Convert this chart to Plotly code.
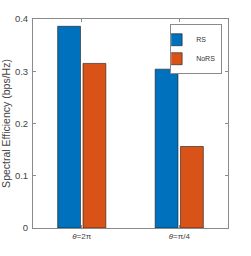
import plotly.graph_objects as go

categories = ["<i>θ</i>=2π", "<i>θ</i>=π/4"]
positions = [1, 2]
rs_values = [0.386, 0.304]
nors_values = [0.315, 0.156]
y_ticks = [0, 0.1, 0.2, 0.3, 0.4]
y_tick_labels = ["0", "0.1", "0.2", "0.3", "0.4"]

fig = go.Figure()
fig.add_trace(go.Bar(x=positions, y=rs_values, name="RS",
                     marker=dict(color="#0072BD", line=dict(color="#1a1a1a", width=0.6))))
fig.add_trace(go.Bar(x=positions, y=nors_values, name="NoRS",
                     marker=dict(color="#D95319", line=dict(color="#1a1a1a", width=0.6))))

axis_common = dict(showline=True, linecolor="#8a8a8a", linewidth=1, mirror="ticks",
                   ticks="inside", ticklen=3, tickcolor="#8a8a8a", showgrid=False,
                   zeroline=False, automargin=False)

fig.update_layout(
    width=251, height=256,
    margin=dict(l=33, r=23, t=19, b=28),
    plot_bgcolor="white", paper_bgcolor="white",
    barmode="group", bargap=0.48, bargroupgap=0.1,
    font=dict(family="Liberation Sans", color="#444"),
    xaxis=dict(range=[0.5, 2.5], tickvals=positions, ticktext=categories,
               tickfont=dict(family="Liberation Sans", size=8, color="#444"), **axis_common),
    yaxis=dict(range=[0, 0.4], tickvals=y_ticks, ticktext=y_tick_labels,
               tickfont=dict(family="Liberation Sans", size=9.5, color="#444"),
               ticklabelstandoff=2,
               title=dict(text="Spectral Efficiency (bps/Hz)", font=dict(size=10.5, color="#444"), standoff=2),
               **axis_common),
    legend=dict(x=0.97, y=0.975, xanchor="right", yanchor="top",
                bordercolor="#8a8a8a", borderwidth=1, bgcolor="white",
                font=dict(size=7, color="#333"), itemwidth=30,
                tracegroupgap=0, traceorder="normal", indentation=-15),
    showlegend=True,
)

fig.write_html("out.html", config={"displayModeBar": False},
               post_script="document.body.style.margin='0';")
